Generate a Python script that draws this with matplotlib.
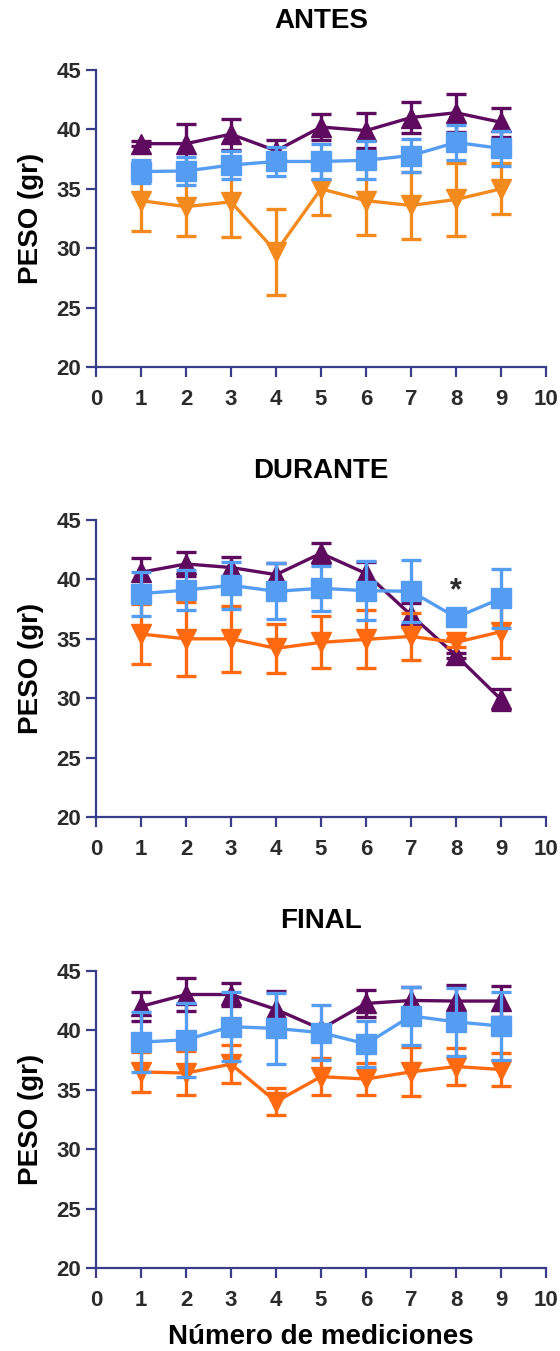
import matplotlib
matplotlib.use("Agg")
import matplotlib.pyplot as plt
import numpy as np

plt.rcParams['font.family'] = ['Liberation Sans', 'DejaVu Sans']
plt.rcParams['font.weight'] = 'bold'

x = [1, 2, 3, 4, 5, 6, 7, 8, 9]

# ANTES
purple_a = [38.8, 38.8, 39.6, 38.2, 40.2, 39.9, 41.0, 41.4, 40.6]
purple_a_err = [0.2, 1.65, 1.3, 0.9, 1.1, 1.5, 1.3, 1.6, 1.2]
blue_a = [36.45, 36.5, 37.0, 37.3, 37.3, 37.4, 37.8, 38.9, 38.4]
blue_a_err = [1.0, 1.2, 1.2, 1.25, 1.5, 1.6, 1.4, 1.5, 1.5]
orange_a = [34.0, 33.5, 33.9, 29.7, 35.0, 34.0, 33.6, 34.1, 35.0]
orange_a_err = [2.55, 2.5, 2.95, 3.6, 2.2, 2.9, 2.8, 3.1, 2.15]

# DURANTE
purple_d = [40.6, 41.3, 41.0, 40.4, 42.2, 40.5, 37.0, 33.6, 29.9]
purple_d_err = [1.2, 1.0, 0.9, 1.0, 0.85, 1.0, 1.0, 0.2, 0.9]
blue_d = [38.8, 39.1, 39.5, 39.0, 39.25, 39.05, 39.0, 36.8, 38.4]
blue_d_err = [1.85, 1.7, 1.95, 2.35, 1.9, 2.5, 2.6, 0.2, 2.45]
orange_d = [35.4, 35.0, 35.0, 34.2, 34.7, 34.95, 35.2, 34.7, 35.6]
orange_d_err = [2.5, 3.1, 2.8, 2.05, 2.2, 2.45, 2.0, 0.4, 2.2]

# FINAL
purple_f = [42.0, 43.0, 43.0, 41.75, 40.1, 42.25, 42.5, 42.45, 42.45]
purple_f_err = [1.2, 1.35, 0.95, 1.55, 0.2, 1.15, 1.1, 1.35, 1.3]
blue_f = [39.0, 39.2, 40.3, 40.15, 39.8, 38.85, 41.2, 40.7, 40.35]
blue_f_err = [2.5, 3.1, 2.9, 2.95, 2.3, 1.95, 2.45, 2.85, 2.85]
orange_f = [36.5, 36.4, 37.15, 34.0, 36.1, 35.9, 36.5, 36.95, 36.7]
orange_f_err = [1.7, 1.85, 1.6, 1.15, 1.55, 1.35, 2.05, 1.55, 1.4]

titles = ["ANTES", "DURANTE", "FINAL"]
xticks = [0, 1, 2, 3, 4, 5, 6, 7, 8, 9, 10]
yticks = [20, 25, 30, 35, 40, 45]
star_x, star_y = 8, 39.0

PURPLE = '#5E0A5E'
BLUE = '#559DF2'
ORANGE1 = '#F28A1E'
ORANGE2 = '#FF6A10'
AXCOL = '#3A3D8A'
TXT = '#2B2B2B'

W, H = 560, 1351
fig = plt.figure(figsize=(W / 100, H / 100), dpi=100)

left_px, right_px = 96, 546
panels = [(70, 367), (520, 817), (970.7, 1268.3)]
title_y = [21, 471, 921]

datasets = [
    (purple_a, purple_a_err, blue_a, blue_a_err, orange_a, orange_a_err, ORANGE1),
    (purple_d, purple_d_err, blue_d, blue_d_err, orange_d, orange_d_err, ORANGE2),
    (purple_f, purple_f_err, blue_f, blue_f_err, orange_f, orange_f_err, ORANGE2),
]

for i, ((top, bot), ds) in enumerate(zip(panels, datasets)):
    ax = fig.add_axes([left_px / W, 1 - bot / H, (right_px - left_px) / W, (bot - top) / H])
    p, pe, b, be, o, oe, ocol = ds
    common = dict(lw=2.4, elinewidth=2.4, capsize=7.5, capthick=2.4, clip_on=False)
    ax.errorbar(x, p, yerr=pe, color=PURPLE, marker='^', ms=15, zorder=3, **common)
    ax.errorbar(x, o, yerr=oe, color=ocol, marker='v', ms=15, zorder=4, **common)
    ax.errorbar(x, b, yerr=be, color=BLUE, marker='s', ms=14.5, zorder=5, **common)

    ax.set_xlim(0, 10)
    ax.set_ylim(20, 45)
    ax.set_xticks(xticks)
    ax.set_yticks(yticks)
    for s in ['top', 'right']:
        ax.spines[s].set_visible(False)
    for s in ['left', 'bottom']:
        ax.spines[s].set_color(AXCOL)
        ax.spines[s].set_linewidth(1.6)
    ax.tick_params(axis='both', direction='out', length=7.5, width=1.6, color=AXCOL,
                   labelsize=16, labelcolor=TXT)
    ax.tick_params(axis='x', pad=8)
    ax.tick_params(axis='y', pad=3)
    for lab in ax.get_xticklabels() + ax.get_yticklabels():
        lab.set_fontweight('bold')

    cx = (left_px + right_px) / 2 / W
    fig.text(cx, 1 - title_y[i] / H, titles[i], ha='center', va='center',
             fontsize=20, fontweight='bold', color='black')
    fig.text(31 / W, 1 - (top + bot) / 2 / H, 'PESO (gr)', rotation=90, ha='center',
             va='center', fontsize=20, fontweight='bold', color='black')
    if i == 1:
        ax.text(star_x, star_y, '*', ha='center', va='center', fontsize=22,
                fontweight='bold', color=TXT, zorder=6)

fig.text((left_px + right_px) / 2 / W, 1 - 1337 / H, 'Número de mediciones',
         ha='center', va='center', fontsize=20, fontweight='bold', color='black')

fig.savefig('out.png', dpi=100, facecolor='white')
